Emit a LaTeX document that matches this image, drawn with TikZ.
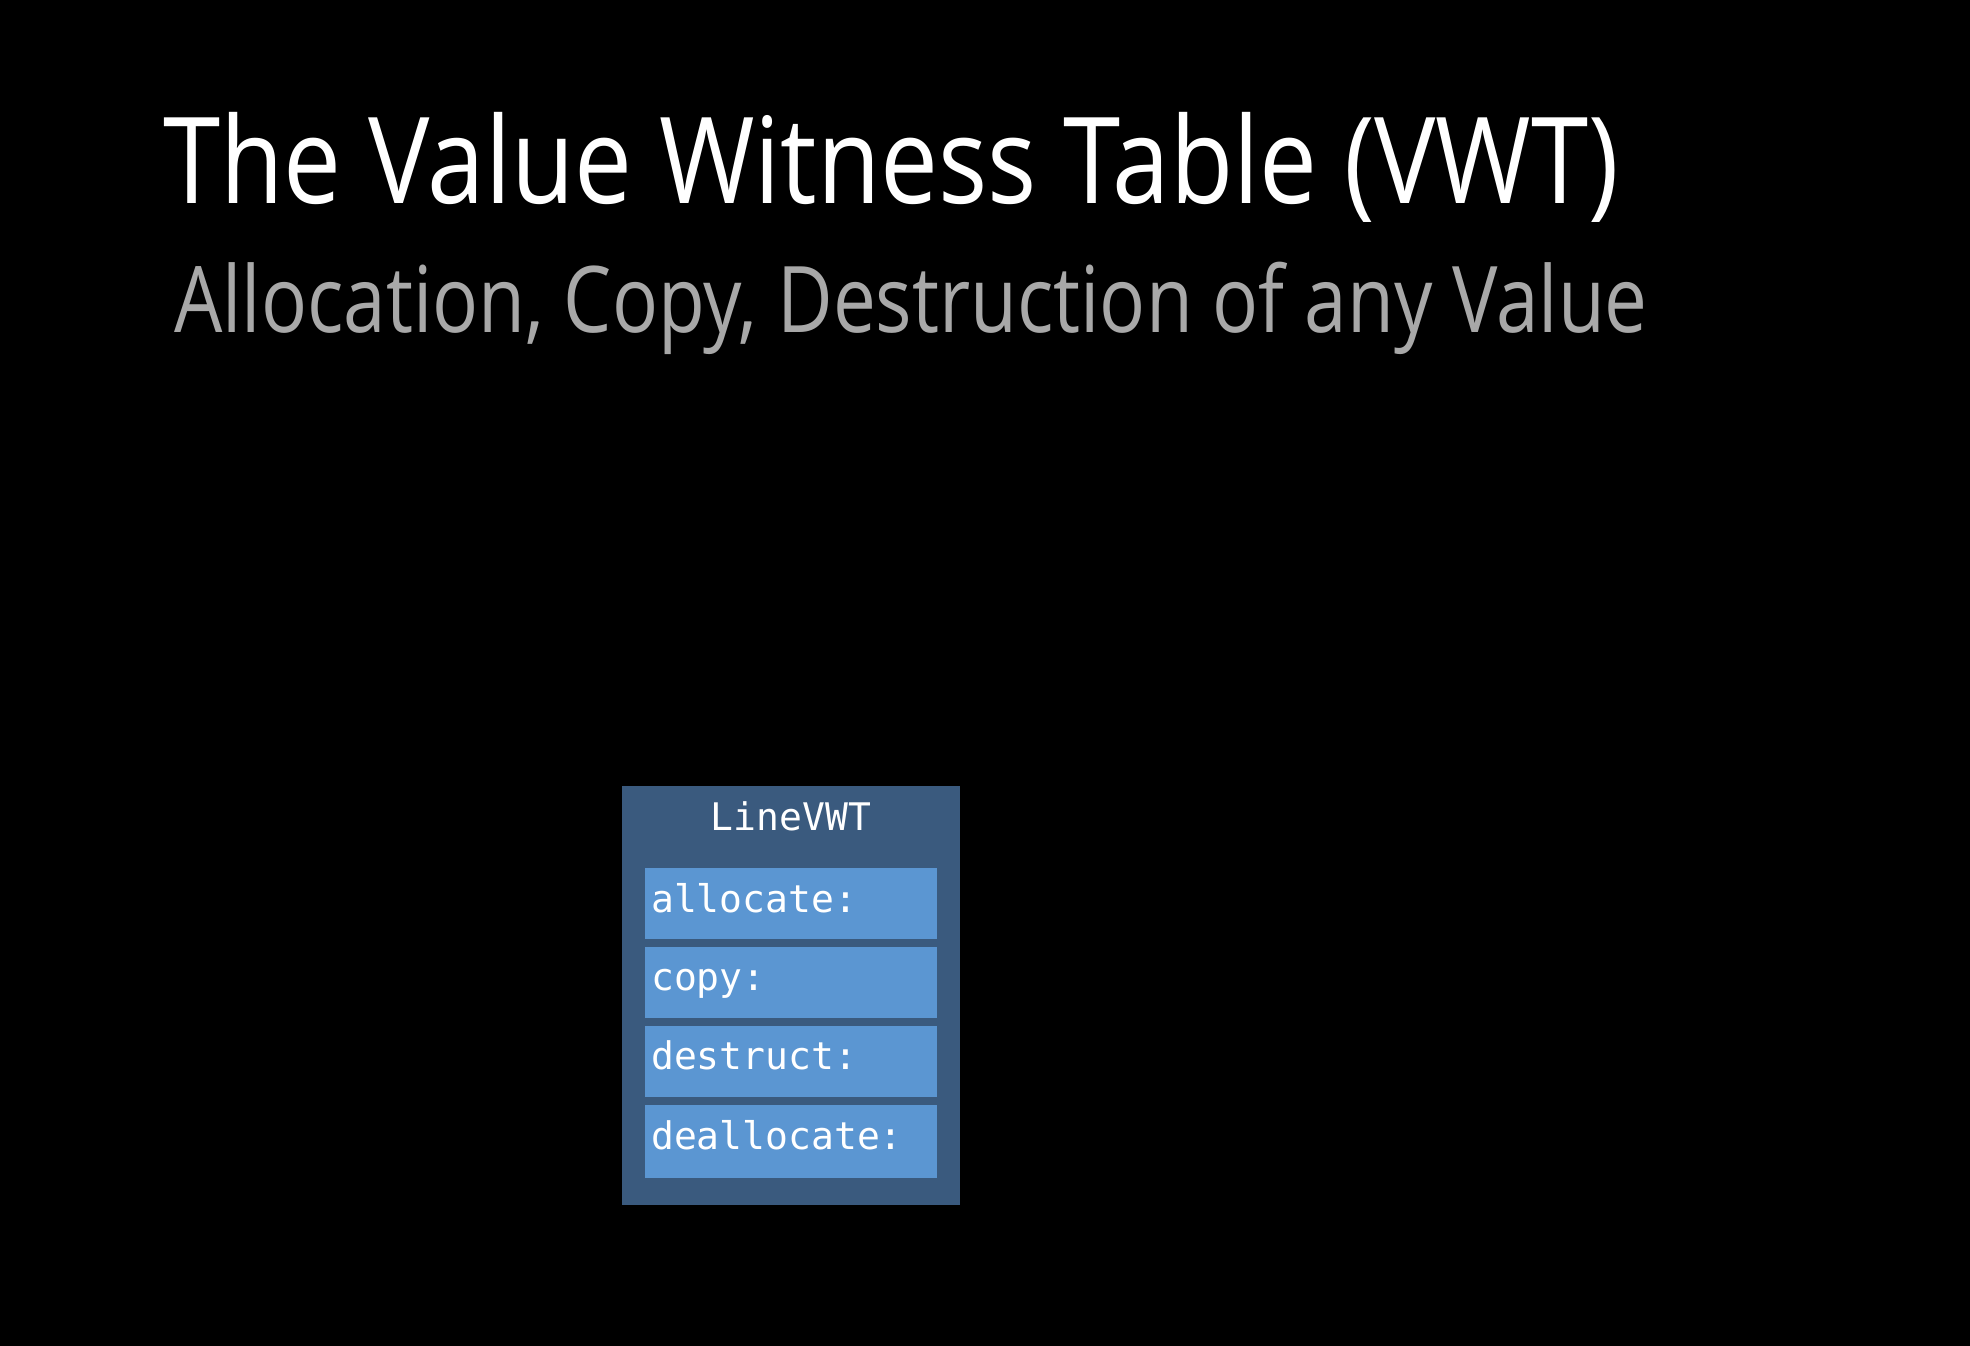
\documentclass[tikz,border=0pt]{standalone}
\usepackage{fontspec}
\setmainfont{Open Sans}
\setmonofont{DejaVu Sans Mono}
\definecolor{outerbox}{HTML}{3A5A7E}
\definecolor{cellfill}{HTML}{5B96D2}
\definecolor{subgray}{HTML}{A8A8A8}
\begin{document}
\begin{tikzpicture}[x=1pt,y=-1pt,
  celltext/.style={anchor=base west,inner sep=0pt,text=white,font=\ttfamily\fontsize{38}{40}\selectfont},
  cellbox/.style={fill=cellfill,draw=none}]
\fill[black] (0,0) rectangle (1970,1346);
\useasboundingbox (0,0) rectangle (1970,1346);
\node[anchor=base west,inner sep=0pt,text=white,font=\fontsize{120}{130}\selectfont] (title) at (163,203) {\scalebox{0.86}[1]{The Value Witness Table (VWT)}};
\node[anchor=base west,inner sep=0pt,text=subgray,font=\fontsize{92}{100}\selectfont] (subtitle) at (174,332) {\scalebox{0.83}[1]{Allocation, Copy, Destruction of any Value}};
\fill[outerbox] (622,786) rectangle (960,1205);
\node[celltext,anchor=base] (hdr) at (791,830) {LineVWT};
\fill[cellbox] (645,868) rectangle (937,939);
\fill[cellbox] (645,947) rectangle (937,1018);
\fill[cellbox] (645,1026) rectangle (937,1097);
\fill[cellbox] (645,1105) rectangle (937,1178);
\node[celltext] (c1) at (651,912) {allocate:};
\node[celltext] (c2) at (651,990) {copy:};
\node[celltext] (c3) at (651,1069) {destruct:};
\node[celltext] (c4) at (651,1149) {deallocate:};
\end{tikzpicture}
\end{document}
